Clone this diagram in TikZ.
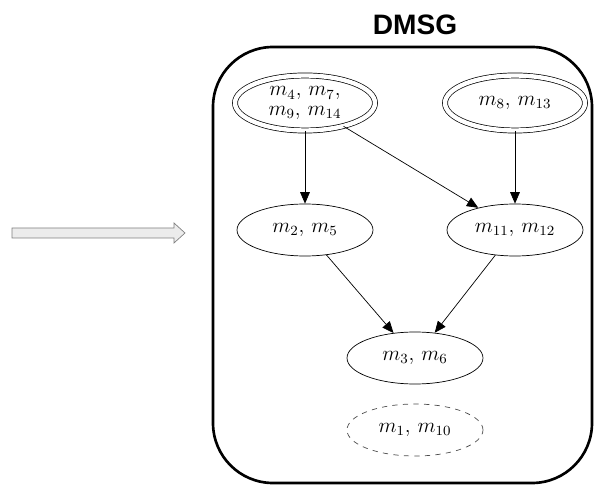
\documentclass[tikz,border=0pt]{standalone}
\usepackage{fontspec}
\newfontfamily\titlefont{Liberation Sans}
\usetikzlibrary{arrows.meta,shapes.geometric}
\tikzset{
  grp/.style={ellipse,draw,thin,minimum width=2.72cm,minimum height=1.04cm,inner sep=1pt,font=\large,align=center},
  dbl/.style={grp,double,double distance=2.5pt,minimum width=2.8cm,minimum height=1.1cm},
  lnk/.style={-{Triangle[length=6.5pt,width=5.5pt]},thin}
}
\begin{document}
\begin{tikzpicture}[x=0.02cm,y=-0.02cm]
	\useasboundingbox (0,0) rectangle (595,486);
	% title and frame
	\node[font=\titlefont\fontsize{16}{19}\selectfont\bfseries] (title) at (415,25) {DMSG};
	\draw [line width=1.5pt,rounded corners=1.2cm] (213,47) rectangle (592,483);
	
	% input arrow
	\draw [fill=gray!15,draw=gray,thin] (12,228) -- (174,228) -- (174,223) -- (185,233) -- (174,243) -- (174,238) -- (12,238) -- cycle;
	
	% groups
	\node[dbl] (a) at (305,103) {$m_4$, $m_7$,\\[-3pt] $m_9$, $m_{14}$};
	\node[dbl] (b) at (515,103) {$m_8$, $m_{13}$};
	\node[grp] (c) at (305,230) {$m_2$, $m_5$};
	\node[grp] (d) at (515,230) {$m_{11}$, $m_{12}$};
	\node[grp] (e) at (415,358) {$m_3$, $m_6$};
	\node[grp,dashed,draw=black!70] (f) at (415,430) {$m_1$, $m_{10}$};
	
	% links
	\draw [lnk] (a) -- (c);
	\draw [lnk] (a) -- (d);
	\draw [lnk] (b) -- (d);
	\draw [lnk] (c) -- (e);
	\draw [lnk] (d) -- (e);
\end{tikzpicture}
\end{document}
